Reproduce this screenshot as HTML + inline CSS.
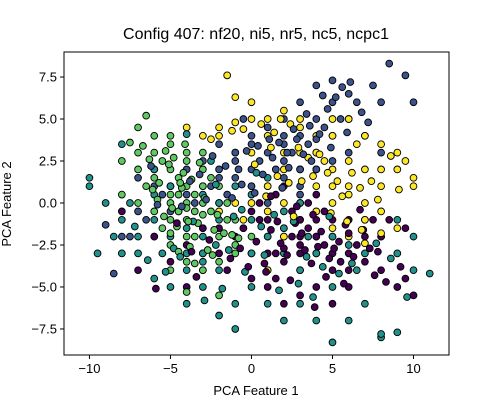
<!DOCTYPE html>
<html><head><meta charset="utf-8"><style>
body{margin:0;background:#fff;}
svg text{font-family:"Liberation Sans","DejaVu Sans",sans-serif;}
</style></head><body>
<svg id="chart" width="500" height="400" xmlns="http://www.w3.org/2000/svg">
<rect width="500" height="400" fill="#fff"/>
<text x="256" y="39" font-size="16" text-anchor="middle">Config 407: nf20, ni5, nr5, nc5, ncpc1</text>
<g id="points"></g>
<rect x="64" y="52" width="385" height="303" fill="none" stroke="#000" stroke-width="1"/>
<g id="xticks"></g>
<g id="yticks"></g>
<text x="256" y="395" font-size="13" text-anchor="middle">PCA Feature 1</text>
<text transform="translate(11,204) rotate(-90)" font-size="13" text-anchor="middle">PCA Feature 2</text>
</svg>
<script>
const xTicks=[-10,-5,0,5,10];
const yTicks=[-7.5,-5.0,-2.5,0.0,2.5,5.0,7.5];
const yTickLabels=["−7.5","−5.0","−2.5","0.0","2.5","5.0","7.5"];
const xTickLabels=["−10","−5","0","5","10"];
const purplePts=[[0.5,-1],[1,-2],[2,-1.5],[3,-2.5],[4,-1],[5,-2],[6,-3],[7,-2],[2,-3.5],[3,-4],[1.5,-4.5],[4,-5],[5,-4],[6,-5],[8,-4],[9,-5],[10,-5.5],[2.5,-0.5],[3.5,0],[4.5,-0.5],[-1,-2],[-2,-3],[-3,-4],[-4,-5],[-7,-4],[-5,-3.5],[0,-3],[1,-5],[2,-6],[3,-5.5],[5,-6],[0.5,0],[1.5,0.5],[2,1],[4,0.5],[6,-1],[7,-3.5],[8,-2],[3,-3],[4,-3],[5,-1],[1,-1],[0,-0.5],[-0.5,-1.5],[2.5,-2],[3.5,-1.5],[4.5,-2.5],[5.5,-3.5],[6.5,-2.5],[7.5,-1],[1,-3],[2,-2],[-1.5,-4],[0,-4.5],[9.5,-4.5],[-3,-1.5],[6,-4],[4,-2],[3,-1],[2,-2.7],[-8,-0.5],[-6,-2],[9.5,-1.5],[8.5,-1],[-4,-2.5],[-2,-1.5],[1.5,-3],[3,-2],[5,-3],[6,-1.8],
[0.3,-2.3],[1.2,-1.6],[1.8,-2.4],[2.7,-1.2],[3.3,-2.8],[3.8,-0.7],[4.3,-1.7],[4.8,-3.3],[5.4,-2.3],[5.8,-1.3],[6.3,-3.2],[6.9,-1.6],[7.3,-2.7],[0.8,-3.6],[1.6,-1.1],[2.2,-3.1],[3.1,-1.8],[3.7,-3.6],[4.1,-2.6],[5.1,-2.7],[-0.7,-2.7],[-1.3,-3.3],[-2.6,-2.2],[-3.4,-4.4],[-4.6,-1.2],[8.3,-4.7],[9.2,-3.8],[7.6,-4.3],[0.9,-4.1],[2.4,-4.6],[4.6,-4.4],[5.7,-4.8],[3.9,-6.2],[1.2,0.4],[2.8,-0.2],[-5.9,-5.1],[-3.7,-2.9],[-0.2,-3.8],[6.7,-0.4],[7.8,-2.9]];
const bluePts=[[0,2],[1,3],[2,2.5],[-1,1.5],[-2,2],[-3,1],[-4,0.5],[3,4],[4,5],[5,6],[4,3],[3,1],[1,1],[2,4],[5,4],[6,5],[7,4],[8,6],[8.5,8.3],[9.5,7.6],[10,6],[4,7],[3,6],[5,7.3],[6,6.5],[2,5],[0,4],[-1,3],[-2,3.5],[-3,2.5],[-4,2],[-5,1],[-5.5,0.5],[-4.5,-0.5],[-3.5,0],[-2.5,1],[-1.5,0.5],[0.5,2.5],[1.5,2],[2.5,3],[3.5,3.5],[4.5,4.5],[5.5,5],[6.5,6],[7.5,7],[3,0.5],[1,0],[-1,2.5],[0,3.5],[2,3.5],[4,2],[6,3],[8,3],[-6,1],[-7,1.5],[-6.5,-1],[5,2.5],[3,2],[1,4.5],[-0.5,5],[-8,-2],[-7.5,-2],[-9,-1.3],[-8.5,-4.2],[-7,-0.5],[-5,-0.5],[-2,1.5],[0,1],[2,1.5],[4,3.8],
[-2.4,2.8],[-1.6,2.2],[-0.8,2.0],[-0.3,3.1],[0.4,3.4],[0.7,1.7],[1.3,2.7],[1.7,3.6],[2.3,2.1],[2.8,3.8],[3.2,2.9],[3.6,4.6],[4.2,4.1],[4.7,5.6],[5.2,6.3],[5.6,6.9],[6.1,7.2],[4.4,6.4],[3.4,5.3],[2.6,4.4],[1.1,3.8],[-0.6,1.1],[-1.2,0.3],[-2.8,0.2],[-3.2,1.7],[-3.8,1.3],[-4.3,-0.2],[-5.8,-0.1],[-6.2,2.2],[0.2,0.6],[1.9,0.9],[2.2,3.0],[3.7,2.5],[4.9,3.3],[5.9,4.2],[6.8,5.4],[7.2,4.8]];
const tealPts=[[-10,1.5],[-10,1],[-9,0],[-8,-1],[-7,-2],[-9.5,-3],[-8.5,-2],[-6,-1],[-5,-2],[-4,-3],[-3,-2],[-2,-1],[-1,-2],[0,-1],[1,-2],[2,-3],[3,-4],[-5,-5],[-4,-6],[-2,-6.7],[-1,-6],[0,-5],[1,-6],[2,-7],[4,-7],[5,-8.3],[6,-7],[8,-8],[9,-7.7],[8,-7.8],[10,-4],[11,-4.2],[9,-3],[8,-2],[7,-1],[6,-2.5],[7,-3],[5,-5],[3,-6],[-3,-5],[-6,-4.5],[-7,-3],[-7.5,0],[-6,0.5],[-5,1],[-3,0.5],[-2,0],[-1,1],[0,0.5],[1,1.5],[2,-0.5],[3,0],[-4,-1.5],[-3,-3.5],[-2,-4],[0,-3],[1,-4],[4,-3],[-1,-7.5],[-4,-4],[-8,-3],[-5.5,-3],[7,-6],[6.5,-4],[-2.5,2.5],[-6,2],[-8,3.5],[2,-1.5],[9,-1],[10,-2],[-4,4.1],[3.5,-2],[5,-2],[-3,-3],
[-0.6,-0.4],[0.6,-1.4],[1.4,-0.7],[2.6,-1.1],[3.4,-3.2],[4.4,-3.8],[5.4,-4.2],[6.2,-3.6],[-1.4,-2.8],[-2.2,-2.5],[-3.6,-1.1],[-4.8,-2.7],[-5.3,-4.1],[-6.4,-3.4],[-7.2,-1.4],[-1.8,-5.1],[-0.4,-4.1],[0.8,-3.1],[1.7,-5.2],[2.9,-4.8],[3.8,-5.6],[-2.9,-5.8],[7.7,-2.4],[8.6,-3.3],[9.6,-5.6],[-4.4,-3.2],[-1.1,-0.8],[0.3,1.8],[-2.2,1.1],[4.8,-0.8]];
const greenPts=[[-4,0],[-5,1],[-6,2],[-7,3],[-6,3],[-5,3.5],[-4,3],[-3,2],[-3,1],[-2,0],[-4,-1],[-5,-1],[-6,-0.5],[-7,0],[-3,-1.5],[-2,-2],[-1,-2.5],[-4,-2],[-5,-2.5],[-3,-3],[-6,1.5],[-5,2],[-4,2.5],[-3,3],[-7,2],[-8,2.5],[-7,4.5],[-7.5,3.6],[-5,0.5],[-4.5,1.5],[-3.5,0.5],[-2.5,-0.5],[-1.5,-1],[-0.5,-1.5],[0,-2],[-1,-3],[-2,-3.5],[-3,-4],[-4,-3.5],[-5,-4],[-4,-5.3],[-2,-5.5],[-6,-2],[-6.5,1],[-5.5,-1.5],[-4.5,-0.5],[-3.5,-2],[-2.5,1.5],[-1.5,0],[-1,-1],[-6,4],[-6.5,5.2],[-5,4],[-4,1],[-3,0],[-2,1],[0,1],[-8,0.5],[-5,0],[-5.5,2.5],[-4.5,0.5],[-3.5,-0.5],[-4,-0.3],[-5,-1.8],[-3,-0.7],[-4.2,1.8],[-5.8,0.2],
[-4.8,2.7],[-5.3,3.1],[-6.3,2.6],[-5.7,1.2],[-4.6,-1.4],[-3.8,-2.6],[-3.3,-1.2],[-2.7,-2.8],[-2.3,-1.6],[-1.7,-1.8],[-4.3,0.9],[-3.7,1.4],[-3.2,2.4],[-4.9,-0.3],[-5.4,-0.8],[-6.1,0.8],[-2.9,0.3],[-2.1,-0.7],[-1.2,-1.9],[-3.5,-3.6],[-4.5,-2.9],[-2.4,-3.1],[-0.8,-2.1],[-5.1,2.3],[-4.1,3.5],[-6.7,3.4],[-3.9,-1.1],[-4.4,1.2]];
const yellowPts=[[-1.5,7.6],[-1,6.3],[0,6],[-2,4.5],[-1,4.8],[0,5],[1,4],[2,3],[3,2],[4,1],[5,2],[6,1],[7,0],[8,1],[9,2],[10,1.5],[9,3],[8,3.5],[7,4],[6,5],[5,4],[4,3],[3,4.5],[2,5.5],[1,5],[0,3],[-1,3],[-2,4],[-3,4],[-4,4.5],[3,0],[4,-0.5],[5,0],[6,0.5],[7,-1],[8,-0.5],[6,-2],[5,-1.5],[4,-2],[3,-1],[2,0],[1,1],[0,0],[-1,0],[-2,-0.5],[-0.5,-1],[2,2],[3,3],[4,2],[5,1],[6,2.5],[7,2],[8,2],[9.5,2.5],[10,1],[2,-2],[1,-0.5],[4,4],[5,5],[3,5],[8,-1.8],[9,-1.5],[7,-2.4],[1,-4],[6.5,3.5],[4.5,2.5],
[-0.5,4.4],[0.6,4.7],[1.4,4.2],[1.8,5.0],[2.4,4.7],[2.9,3.3],[3.5,2.7],[3.8,1.6],[4.2,2.9],[4.7,1.8],[5.3,1.3],[5.6,0.4],[6.2,1.8],[6.7,0.9],[7.4,1.3],[7.8,0.2],[8.6,2.8],[9.1,0.8],[2.3,1.2],[1.6,1.6],[0.9,0.4],[3.1,1.3],[2.6,-0.8],[4.9,-0.6],[5.9,-1.1],[6.8,-1.6],[-1.2,4.3],[-2.5,3.8],[0.2,2.3],[1.2,3.3]];
const seriesData=[purplePts,bluePts,tealPts,greenPts,yellowPts];
const seriesNames=["class-0","class-1","class-2","class-3","class-4"];
const seriesColors=["#440154","#3b528b","#21918c","#5ec962","#fde725"];
const X0=64,X1=449,Y0=52,Y1=355,xMin=-11.57,xMax=12.19,yMin=-9.05,yMax=8.99;
function sx(v){return X0+(v-xMin)/(xMax-xMin)*(X1-X0);}
function sy(v){return Y1-(v-yMin)/(yMax-yMin)*(Y1-Y0);}
const NS="http://www.w3.org/2000/svg";
const g=document.getElementById('points');
let maxLen=Math.max(...seriesData.map(s=>s.length));
for(let i=0;i<maxLen;i++){
  for(let s=0;s<seriesData.length;s++){
    const p=seriesData[s][i]; if(!p) continue;
    const c=document.createElementNS(NS,'circle');
    c.setAttribute('cx',sx(p[0]));c.setAttribute('cy',sy(p[1]));c.setAttribute('r',3.4);
    c.setAttribute('fill',seriesColors[s]);c.setAttribute('stroke','#000');c.setAttribute('stroke-width','0.9');
    
    
    g.appendChild(c);
  }
}
const xg=document.getElementById('xticks');
xTicks.forEach((v,i)=>{
  const x=sx(v);
  const l=document.createElementNS(NS,'line');
  l.setAttribute('x1',x);l.setAttribute('x2',x);l.setAttribute('y1',Y1);l.setAttribute('y2',Y1+4);l.setAttribute('stroke','#000');
  
  
  xg.appendChild(l);
  const t=document.createElementNS(NS,'text');
  t.setAttribute('x',x);t.setAttribute('y',Y1+18);t.setAttribute('font-size','13');t.setAttribute('text-anchor','middle');
  t.textContent=xTickLabels[i];
  
  
  xg.appendChild(t);
});
const yg=document.getElementById('yticks');
yTicks.forEach((v,i)=>{
  const y=sy(v);
  const l=document.createElementNS(NS,'line');
  l.setAttribute('x1',X0-4);l.setAttribute('x2',X0);l.setAttribute('y1',y);l.setAttribute('y2',y);l.setAttribute('stroke','#000');
  
  
  yg.appendChild(l);
  const t=document.createElementNS(NS,'text');
  t.setAttribute('x',X0-7);t.setAttribute('y',y+4.5);t.setAttribute('font-size','13');t.setAttribute('text-anchor','end');
  t.textContent=yTickLabels[i];
  
  
  yg.appendChild(t);
});
</script>
</body></html>
